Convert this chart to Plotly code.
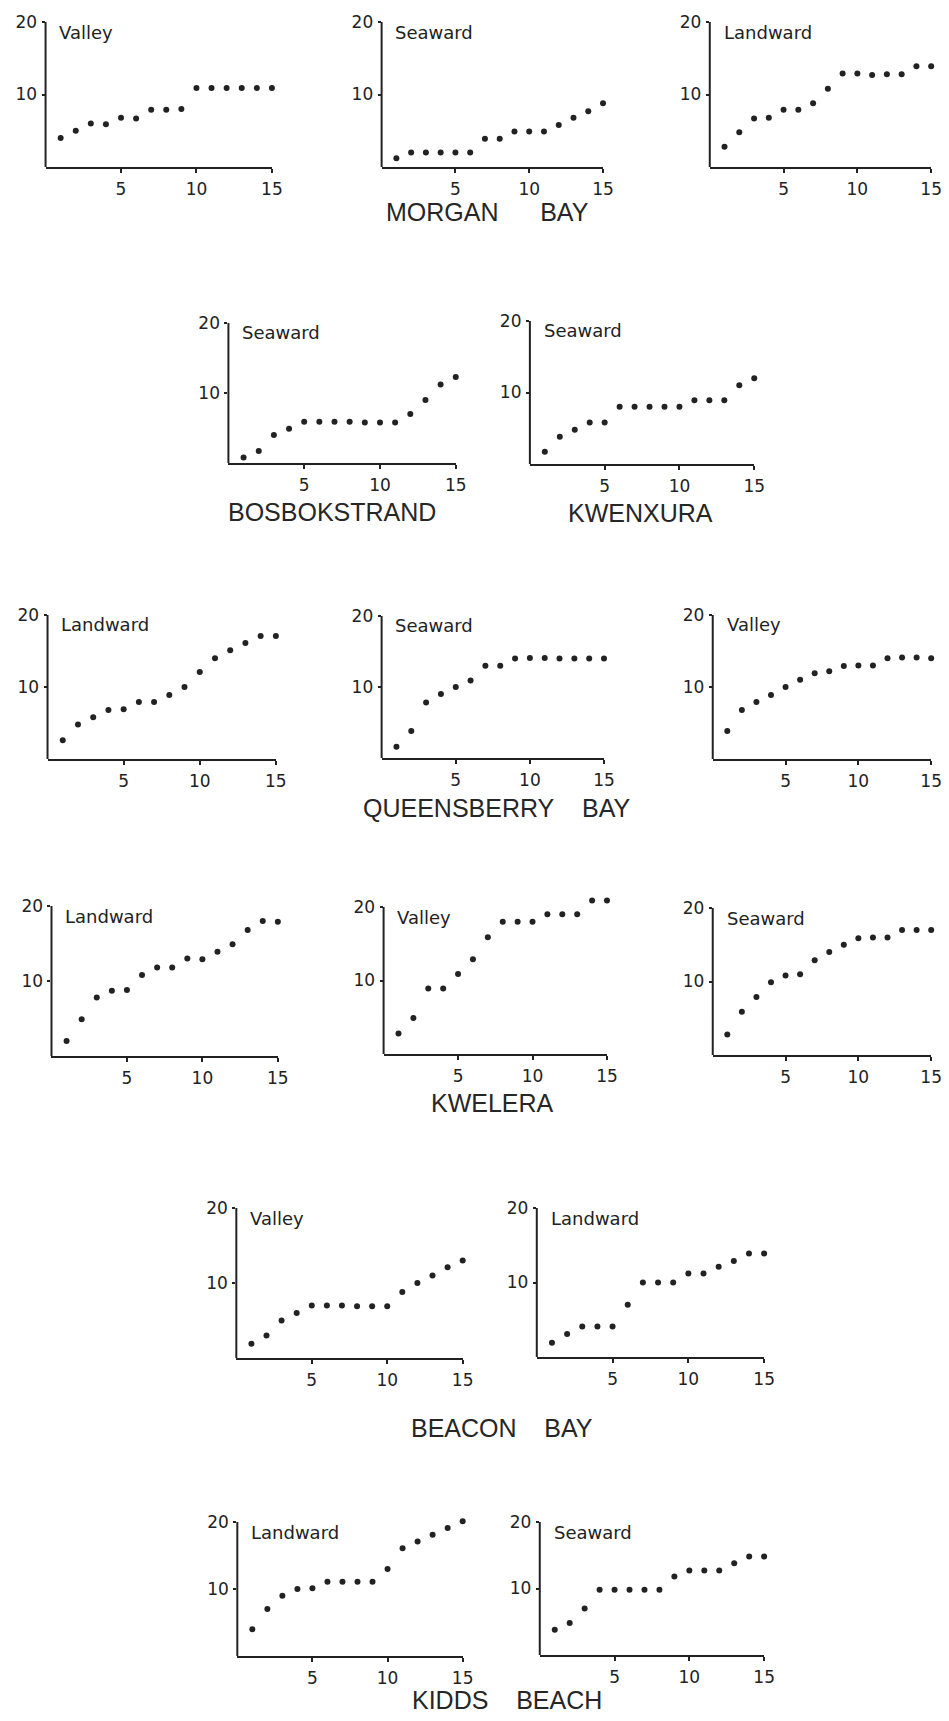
import plotly.graph_objects as go

W, H = 949, 1721

# ---------------- data ----------------
sample_no = [1, 2, 3, 4, 5, 6, 7, 8, 9, 10, 11, 12, 13, 14, 15]
x_tick_vals = [5, 10, 15]
y_tick_vals = [10, 20]

morgan_valley = [4.0, 5.0, 6.0, 5.9, 6.8, 6.7, 7.9, 7.9, 8.0, 10.9, 10.9, 10.9, 10.9, 10.9, 10.9]
morgan_seaward = [1.2, 2.0, 2.0, 2.0, 2.0, 2.0, 3.9, 3.9, 4.9, 4.9, 4.9, 5.8, 6.8, 7.7, 8.8]
morgan_landward = [2.8, 4.8, 6.7, 6.8, 7.9, 7.9, 8.8, 10.8, 12.9, 12.9, 12.7, 12.8, 12.8, 13.9, 13.9]
bosbok_seaward = [0.8, 1.7, 4.0, 4.9, 5.9, 5.9, 5.9, 5.9, 5.8, 5.8, 5.8, 7.0, 9.0, 11.2, 12.3]
kwenxura_seaward = [1.7, 3.8, 4.8, 5.8, 5.8, 8.0, 8.0, 8.0, 8.0, 8.0, 8.9, 8.9, 8.9, 11.0, 12.0]
queens_landward = [2.6, 4.8, 5.8, 6.8, 6.9, 7.9, 7.9, 8.9, 10.0, 12.1, 14.0, 15.1, 16.1, 17.1, 17.1]
queens_seaward = [1.6, 3.8, 7.8, 9.0, 10.0, 10.9, 13.0, 13.0, 14.0, 14.1, 14.1, 14.0, 14.0, 14.0, 14.0]
queens_valley = [3.9, 6.8, 7.9, 8.9, 10.0, 11.0, 11.9, 12.2, 12.9, 13.0, 13.0, 14.0, 14.1, 14.1, 14.0]
kwelera_landward = [2.0, 4.9, 7.8, 8.7, 8.8, 10.8, 11.8, 11.8, 13.0, 12.9, 13.9, 14.9, 16.8, 18.0, 17.9]
kwelera_valley = [2.8, 4.9, 8.9, 8.9, 10.9, 12.9, 15.9, 18.0, 18.0, 18.0, 19.0, 19.0, 19.0, 20.9, 20.9]
kwelera_seaward = [2.8, 5.9, 7.9, 9.9, 10.8, 11.0, 12.9, 14.0, 15.0, 15.9, 16.0, 16.0, 17.0, 17.0, 17.0]
beacon_valley = [1.9, 3.0, 5.0, 6.0, 7.0, 7.0, 7.0, 6.9, 6.9, 6.9, 8.8, 10.0, 11.0, 12.1, 13.0]
beacon_landward = [1.9, 3.1, 4.1, 4.1, 4.1, 7.0, 10.0, 10.0, 10.0, 11.2, 11.2, 12.1, 12.9, 13.9, 13.9]
kidds_landward = [4.0, 7.0, 9.0, 10.0, 10.1, 11.1, 11.1, 11.1, 11.1, 13.0, 16.1, 17.1, 18.1, 19.1, 20.1]
kidds_seaward = [3.8, 4.8, 7.0, 9.8, 9.8, 9.8, 9.8, 9.8, 11.8, 12.7, 12.7, 12.7, 13.8, 14.8, 14.8]

panel_labels = ["Valley", "Seaward", "Landward", "Seaward", "Seaward",
                "Landward", "Seaward", "Valley", "Landward", "Valley", "Seaward",
                "Valley", "Landward", "Landward", "Seaward"]
panel_series = [morgan_valley, morgan_seaward, morgan_landward, bosbok_seaward, kwenxura_seaward,
                queens_landward, queens_seaward, queens_valley, kwelera_landward, kwelera_valley,
                kwelera_seaward, beacon_valley, beacon_landward, kidds_landward, kidds_seaward]

NB = "\u00a0"
site_titles = ["MORGAN" + NB * 6 + "BAY", "BOSBOKSTRAND", "KWENXURA", "QUEENSBERRY" + NB * 4 + "BAY",
               "KWELERA", "BEACON" + NB * 4 + "BAY", "KIDDS" + NB * 4 + "BEACH"]

# ---------------- layout (pixel boxes: x of 0, x of 15, y of 0, y of 20) ----------------
boxes = [
    (38, 267, 159, 14), (378, 602, 159, 14), (710, 934, 159, 14),
    (223, 453, 455, 315), (528, 755, 456, 313),
    (40, 271, 751, 607), (378, 603, 750, 608), (713, 934, 751, 607),
    (44, 273, 1048, 898), (380, 606, 1046, 899), (713, 934, 1047, 900),
    (231, 460, 1350, 1200), (535, 765, 1349, 1200),
    (232, 460, 1648, 1514), (538, 765, 1647, 1514),
]
title_pos = [(485, 204), (328, 504), (640, 505), (495, 800), (490, 1095), (500, 1420), (505, 1692)]
Y_TOP = 22  # headroom so points above 20 still show

INK = "#222222"
TICK_FONT = dict(family="DejaVu Sans", size=17, color=INK)
LABEL_FONT = dict(family="DejaVu Sans", size=18, color=INK)
TITLE_FONT = dict(family="Liberation Sans, Arial, sans-serif", size=25, color="#262626")

fig = go.Figure()
layout = dict(width=W, height=H, margin=dict(l=0, r=0, t=0, b=0),
              paper_bgcolor="white", plot_bgcolor="white", showlegend=False)
annotations = []
shapes = []

for i, (vals, lab, box) in enumerate(zip(panel_series, panel_labels, boxes)):
    n = i + 1
    xa = "xaxis" if n == 1 else f"xaxis{n}"
    ya = "yaxis" if n == 1 else f"yaxis{n}"
    xr = "x" if n == 1 else f"x{n}"
    yr = "y" if n == 1 else f"y{n}"
    x0, x15, y0, y20 = box
    ytop = max(1.0, y0 - (y0 - y20) * Y_TOP / 20.0)
    rtop = 20.0 * (y0 - ytop) / (y0 - y20)
    fig.add_trace(go.Scatter(x=sample_no, y=vals, mode="markers", xaxis=xr, yaxis=yr,
                             marker=dict(size=6, color=INK, symbol="circle"),
                             cliponaxis=False, hoverinfo="skip"))
    layout[xa] = dict(domain=[x0 / W, x15 / W], range=[0, 15], anchor=yr,
                      showline=True, linecolor=INK, linewidth=2, showgrid=False, zeroline=False,
                      tickvals=x_tick_vals, ticks="outside", ticklen=4, tickwidth=2, tickcolor=INK,
                      tickfont=TICK_FONT, ticklabelstandoff=2, fixedrange=True)
    layout[ya] = dict(domain=[1 - y0 / H, 1 - ytop / H], range=[0, rtop], anchor=xr,
                      showline=False, showgrid=False, zeroline=False,
                      tickvals=y_tick_vals, ticks="outside", ticklen=3, tickwidth=1.5, tickcolor=INK,
                      tickfont=TICK_FONT, ticklabelstandoff=1, fixedrange=True)
    # vertical axis line from 0 to 20 on the y scale, at the left edge of the panel
    shapes.append(dict(type="line", xref="paper", yref=yr, x0=x0 / W, x1=x0 / W, y0=0, y1=20,
                       line=dict(color=INK, width=2)))
    annotations.append(dict(text=lab, xref="paper", yref="paper",
                            x=(x0 + 12) / W, y=1 - (y20 + 10) / H,
                            xanchor="left", yanchor="middle", showarrow=False, font=LABEL_FONT))

for t, (tx, ty) in zip(site_titles, title_pos):
    annotations.append(dict(text=t, xref="paper", yref="paper", x=tx / W, y=1 - ty / H,
                            xanchor="center", yanchor="middle", showarrow=False, font=TITLE_FONT))

layout["annotations"] = annotations
layout["shapes"] = shapes
fig.update_layout(**layout)
fig.write_html("out.html")
